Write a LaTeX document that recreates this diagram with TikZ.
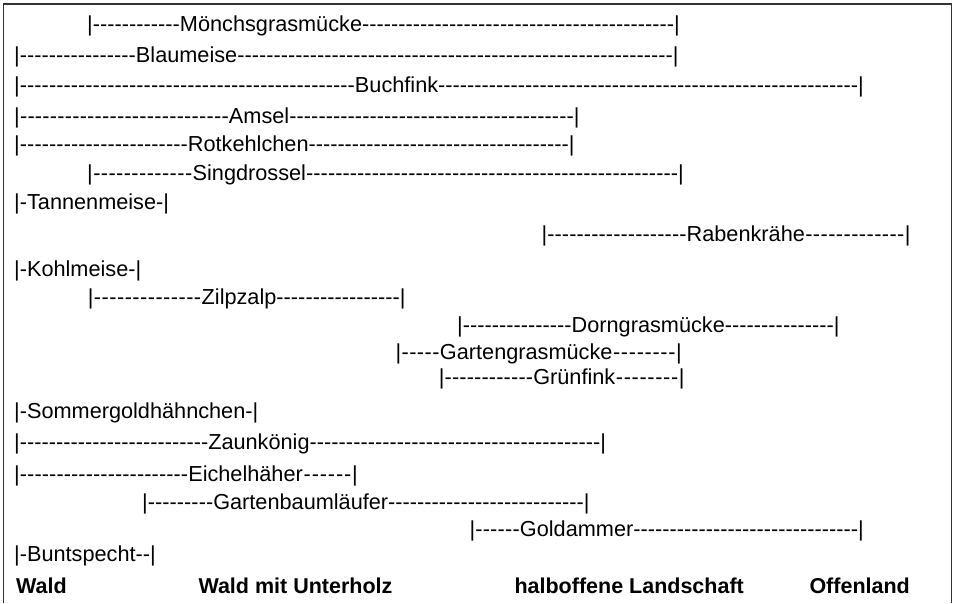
\documentclass[tikz,border=0pt]{standalone}
\usepackage{fontspec}
\newfontfamily\arialf{Liberation Sans}
% #1 left bar x, #2 name start x, #3 right bar x, #4 name
\newcommand{\birdline}[4]{\hbox to \dimexpr #3pt-#1pt+5.65pt\relax{|\xleaders\hbox{-}\hskip\dimexpr #2pt-#1pt-2.85pt\relax #4\xleaders\hbox{-}\hfill|}}
\tikzset{
  row/.style={anchor=base west, inner sep=0pt, outer sep=0pt, font=\arialf\fontsize{21.7}{25}\selectfont},
  habitat/.style={anchor=base west, inner sep=0pt, outer sep=0pt, font=\arialf\bfseries\fontsize{21.5}{25}\selectfont},
  frame/.style={line width=1.2pt, draw=black!80}
}
\begin{document}
\begin{tikzpicture}[x=1pt,y=-1pt]
\useasboundingbox (0,0) rectangle (955,603);
\draw[frame] (3.5,603) -- (3.5,4) -- (951.5,4) -- (951.5,603);
\node[row] (r1)  at (87.2,31.3)  {\birdline{90}{180}{677}{Mönchsgrasmücke}};
\node[row] (r2)  at (14.2,62.3)  {\birdline{17}{136}{675.7}{Blaumeise}};
\node[row] (r3)  at (14.2,92.3)  {\birdline{17}{355}{861}{Buchfink}};
\node[row] (r4)  at (14.2,123)   {\birdline{17}{229}{576.7}{Amsel}};
\node[row] (r5)  at (14.2,151.3) {\birdline{17}{188}{571.7}{Rotkehlchen}};
\node[row] (r6)  at (87.2,180.7) {\birdline{90}{192.7}{681}{Singdrossel}};
\node[row] (r7)  at (14.2,209.7) {|-Tannenmeise-|};
\node[row] (r8)  at (541.5,241.3) {\birdline{544.3}{686.7}{907.7}{Rabenkrähe}};
\node[row] (r9)  at (14.2,276)   {|-Kohlmeise-|};
\node[row] (r10) at (87.9,304.7) {\birdline{90.7}{201.7}{402.7}{Zilpzalp}};
\node[row] (r11) at (457.2,332)  {\birdline{460}{571.7}{836.7}{Dorngrasmücke}};
\node[row] (r12) at (395.5,359.7) {\birdline{398.3}{440}{679}{Gartengrasmücke}};
\node[row] (r13) at (438.9,384.7) {\birdline{441.7}{533.3}{681.7}{Grünfink}};
\node[row] (r14) at (14.2,418)   {|-Sommergoldhähnchen-|};
\node[row] (r15) at (14.2,449.7) {\birdline{17}{208.3}{603.3}{Zaunkönig}};
\node[row] (r16) at (14.2,481.3) {\birdline{17}{188.3}{355}{Eichelhäher}};
\node[row] (r17) at (142.2,509.7) {\birdline{145}{213.3}{586.7}{Gartenbaumläufer}};
\node[row] (r18) at (469.5,536.3) {\birdline{472.3}{520}{861}{Goldammer}};
\node[row] (r19) at (14.2,561.3) {|-Buntspecht-{}-|};
\node[habitat] (h1) at (16.2,593) {Wald};
\node[habitat] (h2) at (198.5,593) {Wald mit Unterholz};
\node[habitat] (h3) at (514.5,593) {halboffene Landschaft};
\node[habitat] (h4) at (809.5,593) {Offenland};
\end{tikzpicture}
\end{document}
